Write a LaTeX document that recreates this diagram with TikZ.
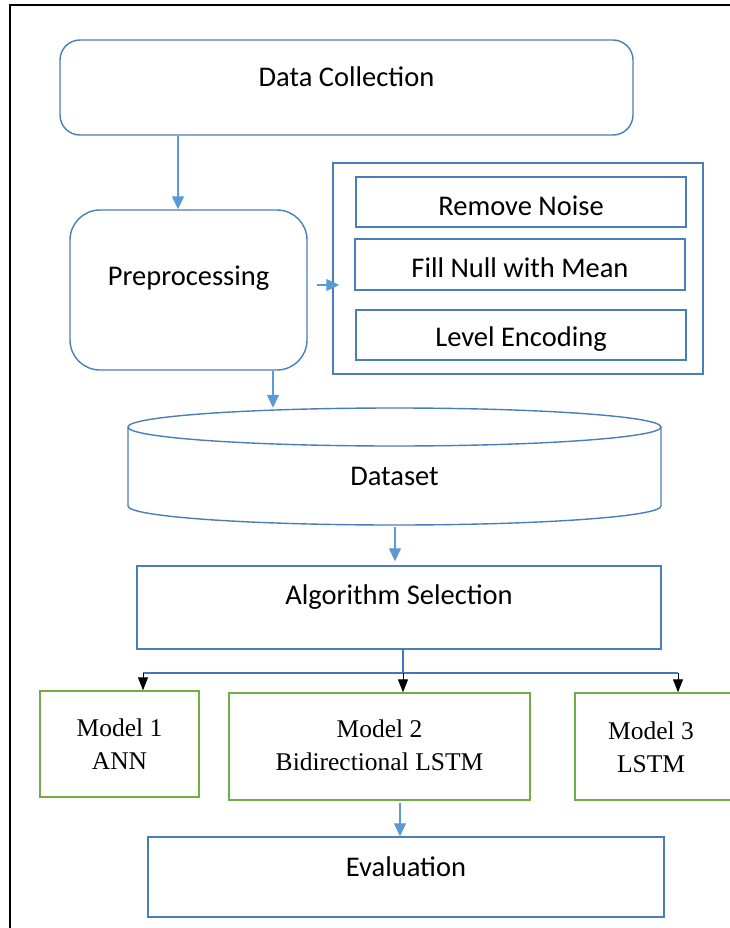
\documentclass[tikz,border=0pt]{standalone}
\usepackage{fontspec}
\setmainfont{Carlito}
\newfontfamily\tnrfont{Liberation Serif}
\usetikzlibrary{arrows.meta}
\definecolor{boxblue}{HTML}{4A7EBB}
\definecolor{arrblue}{HTML}{5B9BD5}
\definecolor{linkblue}{HTML}{4472C4}
\definecolor{mgreen}{HTML}{70AD47}
\begin{document}
\begin{tikzpicture}[x=1pt,y=-1pt,
  box/.style={draw=boxblue, line width=1.4pt, inner sep=0pt},
  gbox/.style={draw=mgreen, line width=1.4pt, inner sep=0pt},
  lbl/.style={font=\fontsize{28.5}{32}\selectfont, inner sep=0pt},
  mlbl/.style={font=\tnrfont\fontsize{25.5}{33}\selectfont, align=center, inner sep=0pt},
  flow/.style={draw=arrblue, line width=1.3pt, -{Triangle[width=12pt,length=13pt]}},
  blk/.style={draw=black, line width=1pt, -{Triangle[width=10pt,length=13pt]}},
  link/.style={draw=linkblue, line width=1.3pt}
]
\useasboundingbox (0,0) rectangle (730,928);
\fill[white] (0,0) rectangle (730,928);
% outer frame
\draw[line width=1.8pt] (10,930) -- (10,5) -- (732,5);

% Data collection
\node[box, rounded corners=20pt, minimum width=573pt, minimum height=95pt] (dc) at (346.5,87.5) {};
\node[lbl] (dct) at (346.5,77) {Data Collection};

% Preprocessing
\node[box, rounded corners=30pt, minimum width=237pt, minimum height=160pt] (pp) at (188.5,290) {};
\node[lbl] (ppt) at (188.5,278) {Preprocessing};

% preprocessing steps
\node[box, minimum width=370pt, minimum height=211pt] (outer) at (518,268.5) {};
\node[box, minimum width=330pt, minimum height=50pt] (rn) at (521,202) {};
\node[lbl] (rnt) at (521,206) {Remove Noise};
\node[box, minimum width=330pt, minimum height=51pt] (fn) at (520,264.5) {};
\node[lbl] (fnt) at (520,268) {Fill Null with Mean};
\node[box, minimum width=330pt, minimum height=50pt] (le) at (521,335) {};
\node[lbl] (let) at (521,339) {Level Encoding};

% Dataset cylinder
\node[minimum width=533pt, minimum height=117pt, inner sep=0pt] (ds) at (394.5,466.5) {};
\draw[draw=boxblue, line width=1.4pt] (128,427) -- (128,506)
  arc[start angle=180, end angle=360, x radius=266.5pt, y radius=19pt] -- (661,427);
\draw[draw=boxblue, line width=1.4pt] (394.5,427) ellipse [x radius=266.5pt, y radius=19pt];
\node[lbl] (dst) at (394.5,476) {Dataset};

% Algorithm selection
\node[box, minimum width=524pt, minimum height=83pt] (alg) at (399,607.5) {};
\node[lbl] (algt) at (399,597) {Algorithm Selection};

% Models
\node[gbox, minimum width=159pt, minimum height=106pt] (m1) at (119.5,744) {};
\node[mlbl] (m1t) at (119.5,744) {Model 1\\ANN};
\node[gbox, minimum width=301pt, minimum height=107pt] (m2) at (379.5,746.5) {};
\node[mlbl] (m2t) at (379.5,745) {Model 2\\Bidirectional LSTM};
\node[gbox, minimum width=165pt, minimum height=107pt] (m3) at (657.5,746.5) {};
\node[mlbl] (m3t) at (651,747) {Model 3\\LSTM};

% Evaluation
\node[box, minimum width=516pt, minimum height=80pt] (ev) at (406,877) {};
\node[lbl] (evt) at (406,867) {Evaluation};

% connectors
\draw[flow] (dc.south -| 178,0) -- (pp.north -| 178,0);
\draw[flow, shorten <=9pt, shorten >=-7pt] (pp.east |- 0,285) -- (outer.west |- 0,285);
\draw[flow] (pp.south -| 273,0) -- (ds.north -| 273,0);
\draw[flow, shorten <=2pt, shorten >=4pt] (ds.south -| 395,0) -- (alg.north -| 395,0);
\draw[flow, shorten <=2pt] (m2.south -| 400,0) -- (ev.north -| 400,0);

\coordinate (bmid) at (403,673);
\coordinate (bl) at (143,673);
\coordinate (br) at (678,673);
\draw[link] (alg.south -| bmid) -- (bmid);
\draw[link] (bl) -- (br);
\draw[blk] (bl) -- (m1.north -| bl);
\draw[blk] (bmid) -- (m2.north -| bmid);
\draw[blk] (br) -- (m3.north -| br);
\end{tikzpicture}
\end{document}
